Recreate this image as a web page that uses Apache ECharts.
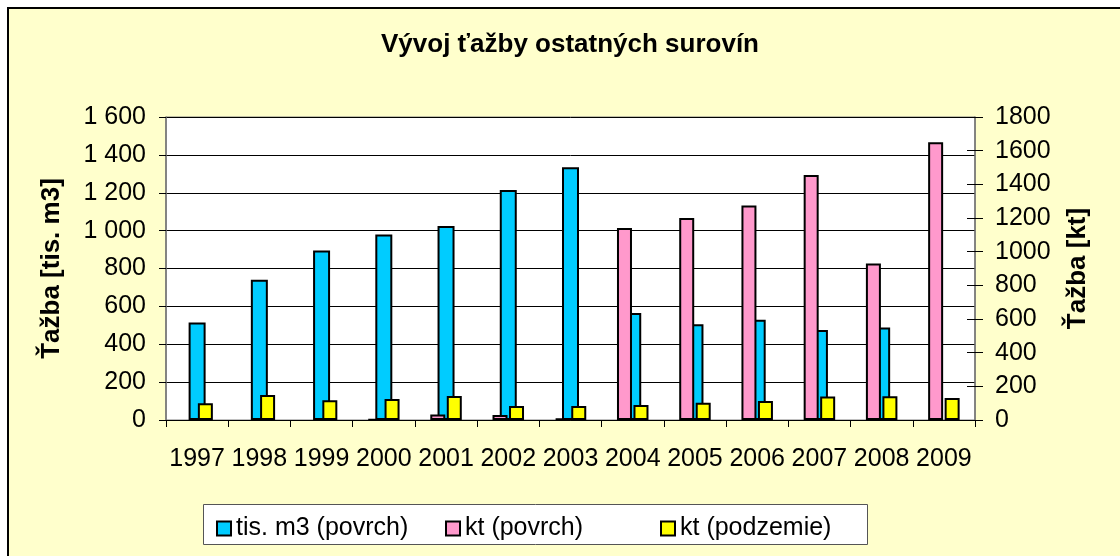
<!DOCTYPE html>
<html>
<head>
<meta charset="utf-8">
<script src="https://cdn.jsdelivr.net/npm/echarts@6/dist/echarts.min.js"></script>
<style>
  html, body { margin: 0; padding: 0; background: #fff; overflow: hidden; }
  #wrap { position: relative; width: 1120px; height: 556px; overflow: hidden; }
  #frame {
    position: absolute; left: 7px; top: 7px; width: 1130px; height: 570px;
    background: #FFFFCC; border-left: 2px solid #000; border-top: 2px solid #000;
  }
  #chart { position: absolute; left: 0; top: 0; width: 1120px; height: 556px; }
</style>
</head>
<body>
<div id="wrap">
  <div id="frame"></div>
  <div id="chart"></div>
</div>
<script>
// roky
var years = ["1997", "1998", "1999", "2000", "2001", "2002", "2003", "2004", "2005", "2006", "2007", "2008", "2009"];
// tis. m3 (povrch) - lava os (null = bez udaja)
var povrchM3 = [515, 740, 895, 980, 1025, 1215, 1335, 565, 505, 530, 475, 488, null];
// kt (povrch) - prava os
var povrchKt = [null, null, null, 2, 33, 30, 10, 1140, 1200, 1275, 1455, 930, 1650];
// kt (podzemie) - prava os
var podzemieKt = [100, 148, 117, 125, 143, 83, 83, 89, 103, 113, 139, 141, 131];

var FONT = "Arial, 'Liberation Sans', sans-serif";

var chart = echarts.init(document.getElementById("chart"));

function legendAt(name, left, color) {
  return {
    data: [{ name: name, itemStyle: { color: color, borderColor: "#000", borderWidth: 2 } }],
    left: left,
    top: 511,
    z: 10,
    icon: "rect",
    itemWidth: 14,
    itemHeight: 14,
    selectedMode: false,
    textStyle: { fontFamily: FONT, fontSize: 25, color: "#000" }
  };
}

var option = {
  backgroundColor: "transparent",
  animation: false,
  title: {
    text: "Vývoj ťažby ostatných surovín",
    left: 565,
    textAlign: "center",
    top: 27,
    textStyle: { fontFamily: FONT, fontSize: 26, fontWeight: "bold", color: "#000" }
  },
  legend: [
    legendAt("tis. m3 (povrch)", 211, "#00CCFF"),
    legendAt("kt (povrch)", 440, "#FF99CC"),
    legendAt("kt (podzemie)", 655, "#FFFF00")
  ],
  graphic: [{
    type: "rect",
    z: 0,
    shape: { x: 203.5, y: 504.5, width: 664, height: 40 },
    style: { fill: "#fff", stroke: "#555", lineWidth: 1 }
  }],
  grid: {
    left: 166,
    top: 117,
    right: 145,
    bottom: 136,
    show: true,
    backgroundColor: "#fff",
    borderColor: "#808080",
    borderWidth: 1
  },
  xAxis: [{
    type: "category",
    data: years,
    axisLine: { lineStyle: { color: "#000", width: 1 } },
    axisTick: { show: true, length: 7, lineStyle: { color: "#000" } },
    axisLabel: { interval: 0, margin: 27, fontFamily: FONT, fontSize: 25, color: "#000" }
  }, {
    type: "category",
    data: years,
    show: false
  }],
  yAxis: [{
    type: "value",
    min: 0,
    max: 1600,
    interval: 200,
    name: "Ťažba [tis. m3]",
    nameLocation: "middle",
    nameGap: 101,
    nameMoveOverlap: false,
    nameTextStyle: { fontFamily: FONT, fontSize: 26, fontWeight: "bold", color: "#000" },
    axisLine: { show: true, lineStyle: { color: "#707070", width: 1.5 } },
    axisTick: { show: true, length: 7, lineStyle: { color: "#000" } },
    axisLabel: {
      margin: 20,
      fontFamily: FONT,
      fontSize: 25,
      color: "#000",
      formatter: function (v) { return String(v).replace(/\B(?=(\d{3})+(?!\d))/g, " "); }
    },
    splitLine: { show: true, lineStyle: { color: "#000", width: 1 } }
  }, {
    type: "value",
    position: "right",
    min: 0,
    max: 1800,
    interval: 200,
    name: "Ťažba [kt]",
    nameLocation: "middle",
    nameGap: 90,
    nameMoveOverlap: false,
    nameTextStyle: { fontFamily: FONT, fontSize: 26, fontWeight: "bold", color: "#000" },
    axisLine: { show: true, lineStyle: { color: "#707070", width: 1.5 } },
    axisTick: { show: true, length: 8, lineStyle: { color: "#000" } },
    axisLabel: {
      margin: 20,
      fontFamily: FONT,
      fontSize: 25,
      color: "#000",
      formatter: function (v) { return String(v); }
    },
    splitLine: { show: false }
  }, {
    // vnutorne znacky pravej osi
    type: "value",
    position: "right",
    min: 0,
    max: 1800,
    interval: 200,
    axisLine: { show: false },
    axisTick: { show: true, inside: true, length: 8, lineStyle: { color: "#000" } },
    axisLabel: { show: false },
    splitLine: { show: false }
  }],
  series: [{
    name: "tis. m3 (povrch)",
    type: "bar",
    xAxisIndex: 0,
    yAxisIndex: 0,
    data: povrchM3,
    barWidth: 17,
    itemStyle: { color: "#00CCFF", borderColor: "#000", borderWidth: 2 }
  }, {
    name: "kt (povrch)",
    type: "bar",
    xAxisIndex: 1,
    yAxisIndex: 1,
    data: povrchKt,
    barWidth: 15,
    barGap: "10%",
    itemStyle: { color: "#FF99CC", borderColor: "#000", borderWidth: 2 }
  }, {
    name: "kt (podzemie)",
    type: "bar",
    xAxisIndex: 1,
    yAxisIndex: 1,
    data: podzemieKt,
    barWidth: 15,
    barGap: "10%",
    itemStyle: { color: "#FFFF00", borderColor: "#000", borderWidth: 2 }
  }]
};

chart.setOption(option);
</script>
</body>
</html>
